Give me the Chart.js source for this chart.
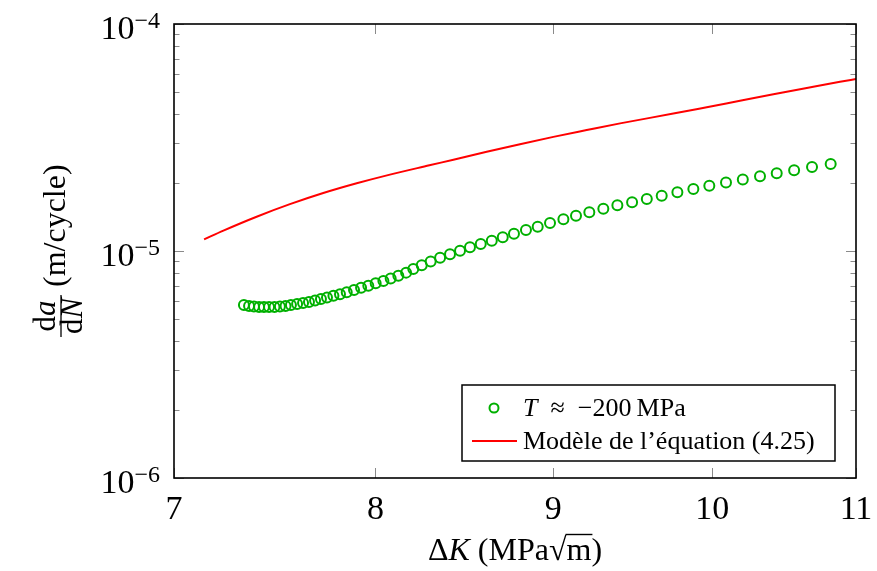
<!DOCTYPE html>
<html lang="fr">
<head>
<meta charset="UTF-8">
<title>da/dN en fonction de ΔK</title>
<script src="https://cdn.jsdelivr.net/npm/chart.js"></script>
<style>
  body { margin: 0; background: #fff; }
  #wrap { width: 877px; height: 571px; }
</style>
</head>
<body>
<div id="wrap"><canvas id="myChart" width="877" height="571"></canvas></div>
<script>
// essais T ≈ -200 MPa
const dkEssai = [7.332, 7.357, 7.381, 7.406, 7.430, 7.455, 7.482, 7.509, 7.537, 7.564,
    7.595, 7.625, 7.655, 7.686, 7.716, 7.747, 7.780, 7.814, 7.849, 7.887,
    7.924, 7.962, 8.001, 8.042, 8.081, 8.122, 8.164, 8.203, 8.249, 8.298,
    8.350, 8.405, 8.461, 8.517, 8.578, 8.641, 8.704, 8.769, 8.839, 8.908,
    8.981, 9.061, 9.137, 9.218, 9.304, 9.391, 9.483, 9.576, 9.671, 9.772,
    9.876, 9.981, 10.092, 10.205, 10.322, 10.437, 10.558, 10.684, 10.817];
const dadnEssai = [5.78e-6, 5.72e-6, 5.69e-6, 5.67e-6, 5.67e-6, 5.67e-6, 5.67e-6, 5.69e-6, 5.72e-6, 5.78e-6,
    5.84e-6, 5.90e-6, 5.96e-6, 6.05e-6, 6.15e-6, 6.24e-6, 6.35e-6, 6.45e-6, 6.58e-6, 6.73e-6,
    6.89e-6, 7.03e-6, 7.21e-6, 7.38e-6, 7.56e-6, 7.78e-6, 8.03e-6, 8.33e-6, 8.65e-6, 8.99e-6,
    9.34e-6, 9.67e-6, 1.003e-5, 1.038e-5, 1.074e-5, 1.110e-5, 1.149e-5, 1.192e-5, 1.237e-5, 1.279e-5,
    1.330e-5, 1.379e-5, 1.430e-5, 1.480e-5, 1.536e-5, 1.589e-5, 1.639e-5, 1.694e-5, 1.752e-5, 1.813e-5,
    1.875e-5, 1.939e-5, 2.003e-5, 2.065e-5, 2.133e-5, 2.199e-5, 2.269e-5, 2.344e-5, 2.416e-5];

// modèle de l'équation (4.25)
const dkModele = [7.141, 7.233, 7.394, 7.559, 7.728, 7.901, 8.077, 8.291, 8.424, 8.612,
    8.804, 9.001, 9.202, 9.408, 9.746, 9.964, 10.186, 10.414, 10.647, 10.884, 11.0];
const dadnModele = [1.126e-5, 1.230e-5, 1.416e-5, 1.608e-5, 1.800e-5, 1.987e-5, 2.170e-5, 2.385e-5, 2.525e-5, 2.735e-5,
    2.954e-5, 3.182e-5, 3.410e-5, 3.650e-5, 4.030e-5, 4.300e-5, 4.590e-5, 4.900e-5, 5.224e-5, 5.563e-5, 5.724e-5];

// graduations
const xTicks = [7, 8, 9, 10, 11];
const yTicks = [1e-6, 1e-5, 1e-4];
const yExposants = [-6, -5, -4];

const VERT = '#00b000';
const ROUGE = '#ff0000';
const serif = '"Liberation Serif", "Times New Roman", serif';

// écrit plusieurs morceaux de texte à la suite (romain / italique)
function ecrire(ctx, parts, x, y, align) {
    let w = 0;
    parts.forEach(p => { ctx.font = p.font; p.w = ctx.measureText(p.text).width; w += p.w; });
    let cx = align === 'center' ? x - w / 2 : (align === 'right' ? x - w : x);
    parts.forEach(p => {
        ctx.font = p.font;
        ctx.fillText(p.text, cx, y + (p.dy || 0));
        p.x = cx;
        cx += p.w;
    });
    return parts;
}

// axes façon pgfplots : cadre, graduations vers l'intérieur, étiquettes, légende
const axesPgf = {
    id: 'axesPgf',
    afterDraw(chart) {
        const ctx = chart.ctx;
        const a = chart.chartArea;
        const xs = chart.scales.x, ys = chart.scales.y;
        ctx.save();
        ctx.textAlign = 'left';
        ctx.textBaseline = 'alphabetic';

        // graduations
        ctx.strokeStyle = '#8a8a8a';
        ctx.lineWidth = 1;
        ctx.beginPath();
        for (let d = -6; d < -4; d++) {
            for (let k = 2; k <= 9; k++) {
                const py = Math.round(ys.getPixelForValue(k * Math.pow(10, d))) + 0.5;
                ctx.moveTo(a.left, py); ctx.lineTo(a.left + 5.5, py);
                ctx.moveTo(a.right, py); ctx.lineTo(a.right - 5.5, py);
            }
        }
        yTicks.forEach(v => {
            const py = Math.round(ys.getPixelForValue(v)) + 0.5;
            ctx.moveTo(a.left, py); ctx.lineTo(a.left + 10, py);
            ctx.moveTo(a.right, py); ctx.lineTo(a.right - 10, py);
        });
        xTicks.forEach(v => {
            const px = Math.round(xs.getPixelForValue(v)) + 0.5;
            ctx.moveTo(px, a.bottom); ctx.lineTo(px, a.bottom - 10);
            ctx.moveTo(px, a.top); ctx.lineTo(px, a.top + 10);
        });
        ctx.stroke();

        // cadre
        ctx.strokeStyle = '#000';
        ctx.lineWidth = 1.6;
        ctx.strokeRect(a.left, a.top, a.right - a.left, a.bottom - a.top);

        ctx.fillStyle = '#000';
        // étiquettes x
        xTicks.forEach(v => {
            ctx.font = '34px ' + serif;
            ctx.textAlign = 'center';
            ctx.fillText(String(v), xs.getPixelForValue(v), a.bottom + 41);
        });
        ctx.textAlign = 'left';
        // étiquettes y : 10^n
        yTicks.forEach((v, i) => {
            const py = ys.getPixelForValue(v);
            ecrire(ctx, [
                { text: '10', font: '34px ' + serif },
                { text: '\u2212' + Math.abs(yExposants[i]), font: '24px ' + serif, dy: -11 }
            ], 160, py + 15, 'right');
        });

        // titre x : ΔK (MPa√m)
        const px = ecrire(ctx, [
            { text: '\u0394', font: '32px ' + serif },
            { text: 'K', font: 'italic 32px ' + serif },
            { text: ' (MPa', font: '32px ' + serif },
            { text: '\u221A', font: '32px ' + serif },
            { text: 'm', font: '32px ' + serif },
            { text: ')', font: '32px ' + serif }
        ], (a.left + a.right) / 2, 560, 'center');
        ctx.lineWidth = 1.4;
        ctx.beginPath();
        ctx.moveTo(px[3].x + px[3].w - 1, 534.5);
        ctx.lineTo(px[4].x + px[4].w + 1, 534.5);
        ctx.stroke();

        // titre y : da/dN (m/cycle)
        ctx.save();
        ctx.translate(55, (a.top + a.bottom) / 2 + 4);
        ctx.rotate(-Math.PI / 2);
        ctx.font = '31px ' + serif;
        const wNum = ctx.measureText('d').width;
        ctx.font = 'italic 31px ' + serif;
        const wN = ctx.measureText('N').width;
        const wDen = wNum + wN;
        const fc = -61;
        ecrire(ctx, [
            { text: 'd', font: '31px ' + serif },
            { text: 'a', font: 'italic 31px ' + serif }
        ], fc, 0, 'center');
        ecrire(ctx, [
            { text: 'd', font: '31px ' + serif },
            { text: 'N', font: 'italic 31px ' + serif }
        ], fc, 27, 'center');
        ctx.lineWidth = 1.3;
        ctx.beginPath();
        ctx.moveTo(fc - wDen / 2 - 3, 6);
        ctx.lineTo(fc + wDen / 2 + 3, 6);
        ctx.stroke();
        ctx.font = '32px ' + serif;
        ctx.textAlign = 'left';
        ctx.fillText('(m/cycle)', -32, 10);
        ctx.restore();

        // légende
        const L = { x: 462, y: 385, w: 373, h: 76 };
        ctx.fillStyle = '#fff';
        ctx.fillRect(L.x, L.y, L.w, L.h);
        ctx.strokeStyle = '#000';
        ctx.lineWidth = 1.5;
        ctx.strokeRect(L.x, L.y, L.w, L.h);
        ctx.strokeStyle = VERT;
        ctx.lineWidth = 2;
        ctx.beginPath();
        ctx.arc(494, 408, 4.5, 0, Math.PI * 2);
        ctx.stroke();
        ctx.strokeStyle = ROUGE;
        ctx.lineWidth = 1.8;
        ctx.beginPath();
        ctx.moveTo(472, 441);
        ctx.lineTo(517, 441);
        ctx.stroke();
        ctx.fillStyle = '#000';
        ecrire(ctx, [
            { text: 'T', font: 'italic 26px ' + serif },
            { text: '\u2002\u2248\u2002\u2212200\u2009MPa', font: '26px ' + serif }
        ], 523, 416, 'left');
        ecrire(ctx, [
            { text: 'Mod\u00e8le de l\u2019\u00e9quation (4.25)', font: '26px ' + serif }
        ], 523, 449, 'left');

        ctx.restore();
    }
};

const ctx = document.getElementById('myChart');
new Chart(ctx, {
    type: 'scatter',
    data: {
        datasets: [
            {
                label: 'T ≈ −200 MPa',
                data: dkEssai.map((k, i) => ({ x: k, y: dadnEssai[i] })),
                showLine: false,
                pointStyle: 'circle',
                pointRadius: 5,
                pointBorderWidth: 2,
                pointBorderColor: VERT,
                pointBackgroundColor: 'rgba(0,0,0,0)',
                borderColor: VERT
            },
            {
                label: 'Modèle de l’équation (4.25)',
                data: dkModele.map((k, i) => ({ x: k, y: dadnModele[i] })),
                showLine: true,
                borderColor: ROUGE,
                borderWidth: 2,
                pointRadius: 0,
                cubicInterpolationMode: 'monotone',
                fill: false
            }
        ]
    },
    options: {
        responsive: false,
        animation: false,
        layout: { autoPadding: false, padding: { left: 174, right: 21, top: 24, bottom: 93 } },
        plugins: {
            legend: { display: false },
            tooltip: { enabled: false }
        },
        scales: {
            x: {
                type: 'logarithmic',
                min: 7,
                max: 11,
                ticks: { display: false },
                grid: { display: false, drawTicks: false },
                border: { display: false }
            },
            y: {
                type: 'logarithmic',
                min: 1e-6,
                max: 1e-4,
                ticks: { display: false },
                grid: { display: false, drawTicks: false },
                border: { display: false }
            }
        }
    },
    plugins: [axesPgf]
});
</script>
</body>
</html>
